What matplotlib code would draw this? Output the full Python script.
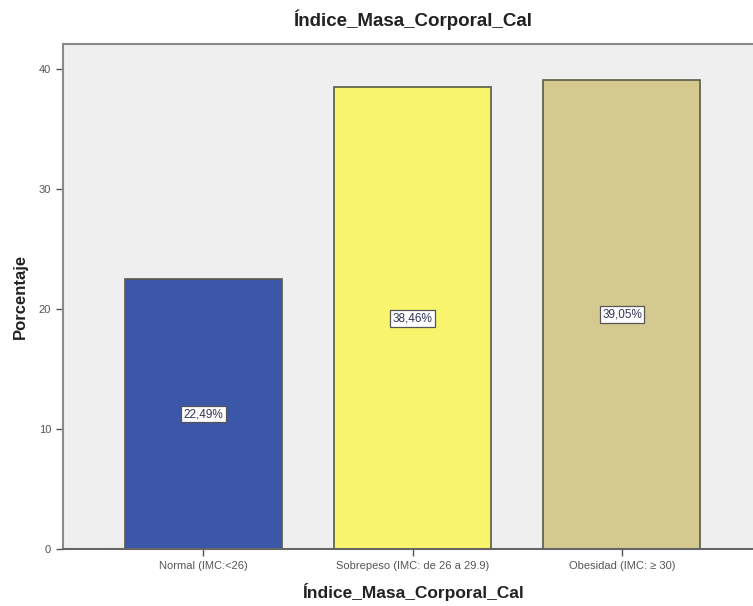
import matplotlib.pyplot as plt

plt.rcParams['font.family'] = ['Liberation Sans', 'DejaVu Sans']

categories = ['Normal (IMC:<26)', 'Sobrepeso (IMC: de 26 a 29.9)', 'Obesidad (IMC: \u2265 30)']
porcentajes = [22.49, 38.46, 39.05]
etiquetas = ['22,49%', '38,46%', '39,05%']
colores = ['#3c56a8', '#f8f46c', '#d4ca90']

fig = plt.figure(figsize=(7.53, 6.06), dpi=100)
W, H = 753, 606
ax = fig.add_axes([63 / W, (H - 549) / H, 699.4 / W, (549 - 44) / H])
ax.set_facecolor('#efefef')

x = list(range(len(categories)))
bars = ax.bar(x, porcentajes, width=0.75, color=colores,
              edgecolor='#5a5a4a', linewidth=1.2, zorder=2)

for b, txt in zip(bars, etiquetas):
    ax.text(b.get_x() + b.get_width() / 2, b.get_height() / 2, txt,
            ha='center', va='center', fontsize=8.5, color='#333355',
            bbox=dict(boxstyle='square,pad=0.2', fc='white', ec='#555555', lw=0.9),
            zorder=3)

ax.set_xlim(-0.671, 2.671)
ax.set_ylim(0, 42.08)
ax.set_yticks([0, 10, 20, 30, 40])
ax.set_xticks(x)
ax.set_xticklabels(categories)
ax.tick_params(axis='both', labelsize=8, labelcolor='#555555', color='#555555',
               length=5, width=1)

for side in ['left', 'top', 'right']:
    ax.spines[side].set_color('#8a8a8a')
    ax.spines[side].set_linewidth(1.5)
ax.spines['bottom'].set_color('#666666')
ax.spines['bottom'].set_linewidth(1.5)

ax.set_title('Índice_Masa_Corporal_Cal', fontsize=13.5, fontweight='bold',
             color='#222222', pad=13)
ax.set_xlabel('Índice_Masa_Corporal_Cal', fontsize=12.5, fontweight='bold',
              color='#222222', labelpad=9)
ax.set_ylabel('Porcentaje', fontsize=12, fontweight='bold', color='#222222',
              labelpad=8)

fig.savefig('out.png', dpi=100)
